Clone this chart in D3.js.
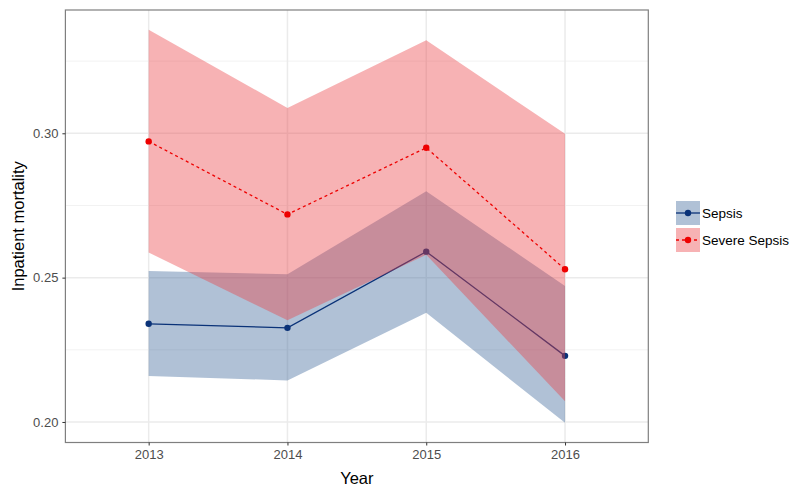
<!DOCTYPE html>
<html><head><meta charset="utf-8">
<script src="https://cdn.jsdelivr.net/npm/d3@7"></script>
<style>body{margin:0;background:#fff}svg{display:block;font-family:"Liberation Sans",Arial,sans-serif}</style>
</head><body><svg id="c" width="800" height="492"></svg>
<script>
const years = [2013, 2014, 2015, 2016];
const seriesNames = ["Sepsis", "Severe Sepsis"];
const sepsisMean  = [0.2340, 0.2326, 0.2590, 0.2229];
const sepsisLow   = [0.2159, 0.2144, 0.2378, 0.1997];
const sepsisHigh  = [0.2523, 0.2512, 0.2799, 0.2471];
const severeMean  = [0.2972, 0.2719, 0.2950, 0.2529];
const severeLow   = [0.2587, 0.2352, 0.2579, 0.2072];
const severeHigh  = [0.3359, 0.3088, 0.3322, 0.2998];
const yTicks = [0.20, 0.25, 0.30];
const yMinor = [0.225, 0.275, 0.325];

const svg = d3.select("#c");
const L = 65.4, R = 648.3, T = 10, B = 442.5;
const x = d3.scaleLinear().domain([2012.4, 2016.6]).range([L, R]);
const ext = [Math.min(...sepsisLow, ...severeLow), Math.max(...sepsisHigh, ...severeHigh)];
const pad = (ext[1]-ext[0])*0.05;
const y = d3.scaleLinear().domain([ext[0]-pad, ext[1]+pad]).range([B, T]);

// grid
const g = svg.append("g");
g.selectAll(".mn").data(yMinor).join("line").attr("x1",L).attr("x2",R)
 .attr("y1",d=>y(d)).attr("y2",d=>y(d)).attr("stroke","#f2f2f2").attr("stroke-width",1);
g.selectAll(".mj").data(yTicks).join("line").attr("x1",L).attr("x2",R)
 .attr("y1",d=>y(d)).attr("y2",d=>y(d)).attr("stroke","#ebebeb").attr("stroke-width",1.5);
g.selectAll(".vx").data(years).join("line").attr("y1",T).attr("y2",B)
 .attr("x1",d=>x(d)).attr("x2",d=>x(d)).attr("stroke","#ebebeb").attr("stroke-width",1.5);

function band(lo, hi, fill){
  const area = d3.area().x((d,i)=>x(years[i])).y0((d,i)=>y(lo[i])).y1((d,i)=>y(hi[i]));
  svg.append("path").datum(lo).attr("d",area).attr("fill",fill).attr("fill-opacity",0.4);
}
function lineP(vals, col, dash){
  const ln = d3.line().x((d,i)=>x(years[i])).y(d=>y(d));
  svg.append("path").datum(vals).attr("d",ln).attr("fill","none").attr("stroke",col)
    .attr("stroke-width",1.3).attr("stroke-dasharray",dash);
  svg.selectAll(null).data(vals).join("circle").attr("cx",(d,i)=>x(years[i])).attr("cy",d=>y(d))
    .attr("r",3.2).attr("fill",col);
}
const blueFill = "rgb(57,100,152)", redFill = "rgb(234,62,67)";
const blueLine = "#0a3278", redLine = "#ee0000";
band(sepsisLow, sepsisHigh, blueFill);
lineP(sepsisMean, blueLine, null);
band(severeLow, severeHigh, redFill);
lineP(severeMean, redLine, "3,3");

// border
svg.append("rect").attr("x",L).attr("y",T).attr("width",R-L).attr("height",B-T)
 .attr("fill","none").attr("stroke","#7f7f7f").attr("stroke-width",1.2);

// axes
const xa = svg.append("g").attr("transform",`translate(0,${B})`)
  .call(d3.axisBottom(x).tickValues(years).tickFormat(d3.format("d")).tickSize(3).tickPadding(4));
const ya = svg.append("g").attr("transform",`translate(${L},0)`)
  .call(d3.axisLeft(y).tickValues(yTicks).tickFormat(d3.format(".2f")).tickSize(3).tickPadding(4));
[xa, ya].forEach(a=>{
  a.select(".domain").remove();
  a.selectAll(".tick line").attr("stroke","#333");
  a.selectAll("text").attr("fill","#4d4d4d").style("font-size","13px").style("font-family",'"Liberation Sans",Arial,sans-serif');
});

svg.append("text").attr("x",(L+R)/2).attr("y",484).attr("text-anchor","middle")
 .style("font-size","16.5px").text("Year");
svg.append("text").attr("transform",`translate(24,${(T+B)/2}) rotate(-90)`).attr("text-anchor","middle")
 .style("font-size","16.5px").text("Inpatient mortality");

// legend
const legY = [201, 228];
const legFill = [blueFill, redFill], legLine = [blueLine, redLine], legDash = [null, "3,3"];
seriesNames.forEach((n,i)=>{
  const gy = legY[i];
  svg.append("rect").attr("x",676).attr("y",gy).attr("width",24).attr("height",24)
    .attr("fill",legFill[i]).attr("fill-opacity",0.4);
  svg.append("line").attr("x1",676).attr("x2",700).attr("y1",gy+12).attr("y2",gy+12)
    .attr("stroke",legLine[i]).attr("stroke-width",1.3).attr("stroke-dasharray",legDash[i]);
  svg.append("circle").attr("cx",688).attr("cy",gy+12).attr("r",3.2).attr("fill",legLine[i]);
  svg.append("text").attr("x",702).attr("y",gy+12).attr("dy","0.35em")
    .style("font-size","13.5px").text(n);
});
</script></body></html>
